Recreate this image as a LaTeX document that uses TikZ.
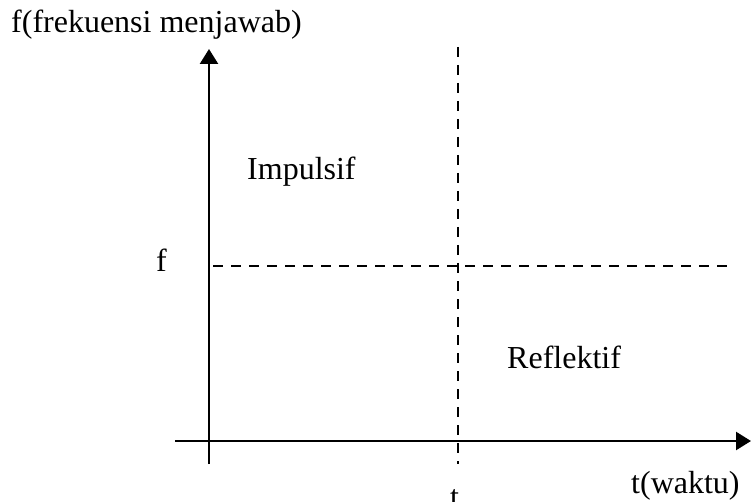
\documentclass[tikz,border=0pt]{standalone}
\usepackage{fontspec}
\setmainfont{Liberation Serif}
\usetikzlibrary{arrows.meta}
\begin{document}
\begin{tikzpicture}[x=1pt,y=-1pt,
  lbl/.style={inner sep=0pt,anchor=base west,font=\fontsize{32}{38}\selectfont},
  axis/.style={line width=2.4pt,-{Triangle[length=15pt,width=18pt]}},
  guide/.style={line width=2.4pt,dash pattern=on 10pt off 8pt}]
\useasboundingbox (0,0) rectangle (751,502);
% axes
\coordinate (yb) at (209,464);
\coordinate (yt) at (209,49);
\coordinate (xl) at (175,441);
\coordinate (xr) at (751,441);
\draw[axis] (yb) -- (yt);
\draw[axis] (xl) -- (xr);
% guides
\coordinate (vt) at (458,47);
\coordinate (vb) at (458,464);
\coordinate (hl) at (213,266);
\coordinate (hr) at (730,266);
\draw[guide] (vt) -- (vb);
\draw[guide] (hl) -- (hr);
% labels
\node[lbl] (ylab) at (11,33) {f(frekuensi menjawab)};
\node[lbl] (imp) at (247,180) {Impulsif};
\node[lbl] (ref) at (507,368) {Reflektif};
\node[lbl] (f) at (156,272) {f};
\node[lbl] (xlab) at (631,493) {t(waktu)};
\node[lbl] (t) at (450,507) {t};
\end{tikzpicture}
\end{document}
